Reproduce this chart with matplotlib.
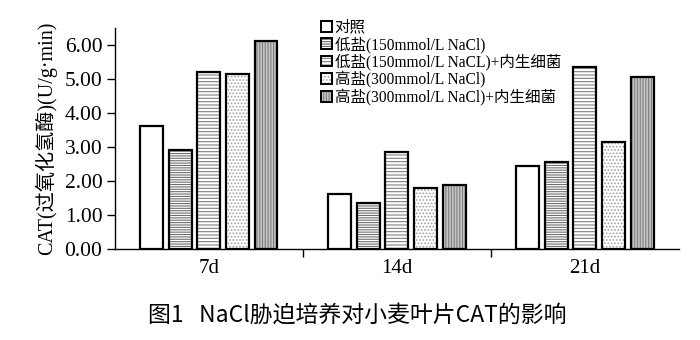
import matplotlib
matplotlib.use("Agg")
import matplotlib.pyplot as plt
import numpy as np
from matplotlib.patches import Patch
from matplotlib.legend_handler import HandlerTuple

plt.rcParams['font.family'] = ['Liberation Serif', 'Noto Sans CJK SC']
plt.rcParams['hatch.linewidth'] = 0.8

groups = ['7d', '14d', '21d']
series = ['对照', '低盐(150mmol/L NaCl)', '低盐(150mmol/L NaCL)+内生细菌',
          '高盐(300mmol/L NaCl)', '高盐(300mmol/L NaCl)+内生细菌']
control = [3.60, 1.62, 2.43]
low_salt = [2.91, 1.36, 2.56]
low_salt_bact = [5.19, 2.84, 5.35]
high_salt = [5.15, 1.80, 3.15]
high_salt_bact = [6.11, 1.88, 5.06]
values = [control, low_salt, low_salt_bact, high_salt, high_salt_bact]
yticks = [0, 1, 2, 3, 4, 5, 6]

styles = [
    dict(facecolor='white', hatch=None, hcolor='white'),
    dict(facecolor='white', hatch='-------', hcolor='#707070'),
    dict(facecolor='white', hatch='-----', hcolor='#808080'),
    dict(facecolor='white', hatch='.....', hcolor='#a0a0a0'),
    dict(facecolor='#c4c4c4', hatch='||||||', hcolor='#808080'),
]

fig = plt.figure(figsize=(7, 3.4), dpi=100)
ax = fig.add_axes([0.164, 0.268, 0.806, 0.65])

x = np.arange(len(groups))
width = 0.122
step = 0.152
handles = []
for i, (vals, st) in enumerate(zip(values, styles)):
    pos = x + (i - 2) * step
    ax.bar(pos, vals, width, color=st['facecolor'], hatch=st['hatch'],
           edgecolor=st['hcolor'], linewidth=0, zorder=2)
    ax.bar(pos, vals, width, fill=False, edgecolor='black', linewidth=1.6, zorder=3)
    h1 = Patch(facecolor=st['facecolor'], hatch=st['hatch'], edgecolor=st['hcolor'], linewidth=0)
    h2 = Patch(fill=False, edgecolor='black', linewidth=1.4)
    handles.append((h1, h2))

ax.set_xlim(-0.5, 2.5)
ax.set_ylim(0, 6.5)
ax.set_yticks(yticks)
ax.set_yticklabels([f'{v:.2f}' for v in yticks], fontsize=15.5)
ax.set_xticks(x)
ax.set_xticklabels(groups, fontsize=15)
ax.tick_params(axis='x', length=0, pad=7)
ax.set_xticks([0.5, 1.5], minor=True)
ax.tick_params(axis='x', which='minor', length=6, direction='out', width=1)
ax.tick_params(axis='y', length=6, direction='out', width=1, pad=3)
for s in ['top', 'right']:
    ax.spines[s].set_visible(False)
for s in ['left', 'bottom']:
    ax.spines[s].set_linewidth(1)
ax.set_ylabel('CAT(过氧化氢酶)(U/g·min)', fontsize=14.5, labelpad=5)

fig.legend(handles, series, handler_map={tuple: HandlerTuple(ndivide=1, pad=0)},
           loc='upper left', bbox_to_anchor=(0.447, 0.965), frameon=False,
           fontsize=11.2, handlelength=0.7, handleheight=0.7, handletextpad=0.2,
           labelspacing=0.05, borderpad=0)

fig.text(0.51, 0.072, '图1   NaCl胁迫培养对小麦叶片CAT的影响', ha='center', va='center',
         fontsize=16.5, fontweight='medium', family=['Noto Sans CJK SC', 'DejaVu Sans'])

fig.savefig('out.png', dpi=100)
